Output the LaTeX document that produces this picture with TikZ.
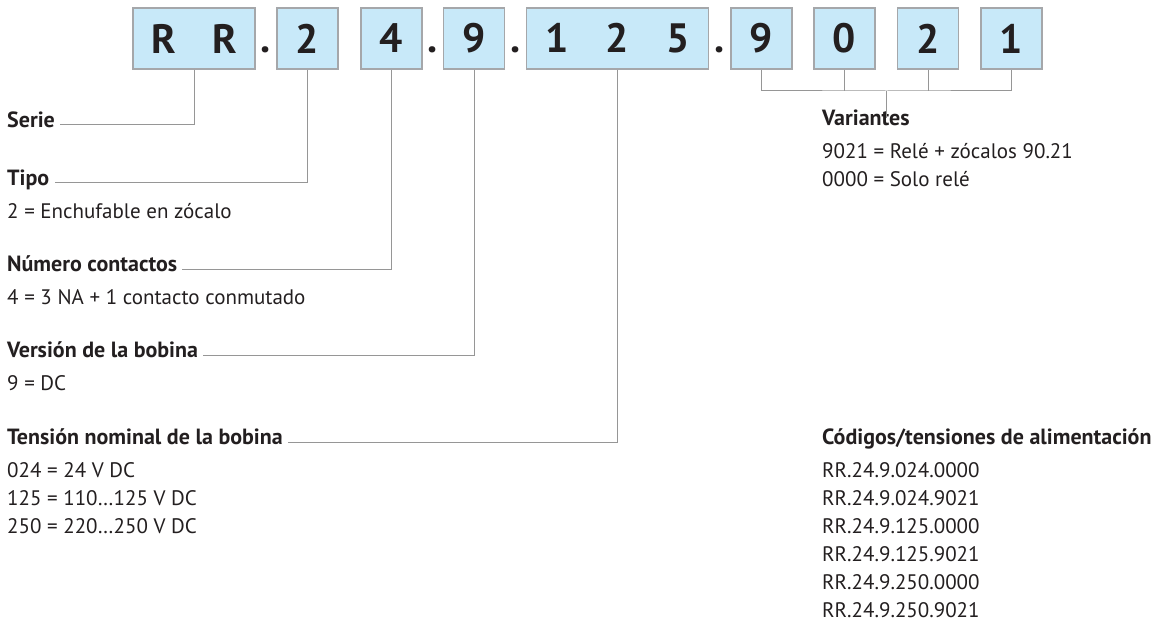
\documentclass[tikz,border=0pt]{standalone}
\usepackage{fontspec}
\setmainfont{PT Sans}
\usepackage{tikz}
\usetikzlibrary{positioning}

\definecolor{boxblue}{RGB}{200,233,249}
\definecolor{boxline}{RGB}{165,167,170}
\definecolor{leadgray}{RGB}{150,150,150}
\definecolor{inkdark}{RGB}{35,31,32}

\begin{document}
\begin{tikzpicture}[x=1pt,y=-1pt,on grid,node distance=84pt]

      \tikzset{cell/.style={draw=boxline,line width=1.3pt,fill=boxblue,minimum height=61pt,minimum width=61pt,inner sep=0pt,text=inkdark,font=\fontsize{41}{43}\selectfont\bfseries}}
      \tikzset{dot/.style={anchor=base,inner sep=0pt,text=inkdark,font=\fontsize{41}{43}\selectfont\bfseries}}
      \tikzset{head/.style={anchor=west,inner xsep=5pt,inner ysep=2pt,text height=0.5em,text depth=0pt,text=inkdark,font=\fontsize{22}{24}\selectfont\bfseries}}
      \tikzset{sub/.style={anchor=west,inner xsep=5pt,text=inkdark,font=\fontsize{21}{24}\selectfont}}
      \tikzset{lead/.style={draw=leadgray,line width=1pt}}

      \useasboundingbox (0,0) rectangle (1157,623);

      % code boxes
      \node[cell] (rr) at (194,38.5) {\makebox[61pt]{R}\makebox[61pt]{R}};
      \node[cell] (t2) [right = 113.5pt of rr] {2};
      \node[cell] (c4) [right = of t2] {4};
      \node[cell] (v9) [right = 82.5pt of c4] {9};
      \node[cell] (n125) [right = 143.5pt of v9] {\makebox[61pt]{1}\makebox[60pt]{2}\makebox[61pt]{5}};
      \node[cell] (a9) [right = 144pt of n125] {9};
      \node[cell] (a0) [right = 83pt of a9] {0};
      \node[cell] (a2) [right = 83.5pt of a0] {2};
      \node[cell] (a1) [right = 83.5pt of a2] {1};

      \node[dot] (d1) at (266,53) {.};
      \node[dot] (d2) at (433,53) {.};
      \node[dot] (d3) at (515.5,53) {.};
      \node[dot] (d4) at (719.5,53) {.};

      % left column
      \node[head] (serie) at (2,125) {Serie};
      \node[head] (tipo) at (2,183) {Tipo};
      \node[sub] (tipo1) at ([yshift=-28pt]tipo.west) {2 = Enchufable en zócalo};
      \node[head] (cont) at (2,269) {Número contactos};
      \node[sub] (cont1) at ([yshift=-28pt]cont.west) {4 = 3 NA + 1 contacto conmutado};
      \node[head] (bob) at (2,355) {Versión de la bobina};
      \node[sub] (bob1) at ([yshift=-28pt]bob.west) {9 = DC};
      \node[head] (ten) at (2,442) {Tensión nominal de la bobina};
      \node[sub] (ten1) at ([yshift=-28pt]ten.west) {024 = 24 V DC};
      \node[sub] (ten2) at ([yshift=-28pt]ten1.west) {125 = 110…125 V DC};
      \node[sub] (ten3) at ([yshift=-28pt]ten2.west) {250 = 220…250 V DC};

      % right column
      \node[head] (var) at (817,123) {Variantes};
      \node[sub] (var1) at ([yshift=-28pt]var.west) {9021 = Relé + zócalos 90.21};
      \node[sub] (var2) at ([yshift=-28pt]var1.west) {0000 = Solo relé};
      \node[head] (cod) at (817,442) {Códigos/tensiones de alimentación};
      \node[sub] (cod1) at ([yshift=-28pt]cod.west) {RR.24.9.024.0000};
      \node[sub] (cod2) at ([yshift=-28pt]cod1.west) {RR.24.9.024.9021};
      \node[sub] (cod3) at ([yshift=-28pt]cod2.west) {RR.24.9.125.0000};
      \node[sub] (cod4) at ([yshift=-28pt]cod3.west) {RR.24.9.125.9021};
      \node[sub] (cod5) at ([yshift=-28pt]cod4.west) {RR.24.9.250.0000};
      \node[sub] (cod6) at ([yshift=-28pt]cod5.west) {RR.24.9.250.9021};

      % leaders
      \draw[lead] (rr.south) |- (serie.east);
      \draw[lead] (t2.south) |- (tipo.east);
      \draw[lead] (c4.south) |- (cont.east);
      \draw[lead] (v9.south) |- (bob.east);
      \draw[lead] (n125.south) |- (ten.east);

      \coordinate (br) at (886.5,91);
      \draw[lead] (a9.south) |- (br) -| (a1.south);
      \draw[lead] (a0.south) -- (a0.south |- br);
      \draw[lead] (a2.south) -- (a2.south |- br);
      \draw[lead] (br) -- (br |- var.north);
    \end{tikzpicture}
\end{document}
